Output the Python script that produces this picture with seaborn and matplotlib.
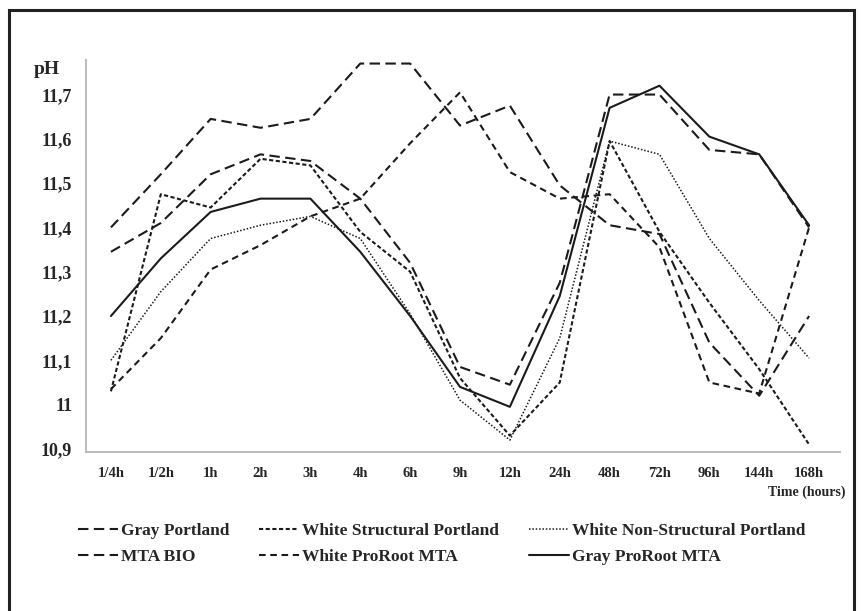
import numpy as np
import pandas as pd
import seaborn as sns
import matplotlib.pyplot as plt
from matplotlib.patches import Rectangle

# ---- data ----
times = ["1/4h", "1/2h", "1h", "2h", "3h", "4h", "6h", "9h", "12h",
         "24h", "48h", "72h", "96h", "144h", "168h"]

gray_portland = [11.40, 11.52, 11.645, 11.625, 11.645, 11.77, 11.77, 11.63,
                 11.675, 11.495, 11.405, 11.385, 11.14, 11.02, 11.20]
white_structural = [11.03, 11.475, 11.445, 11.555, 11.54, 11.39, 11.30, 11.06,
                    10.93, 11.05, 11.595, 11.39, 11.23, 11.08, 10.91]
white_nonstructural = [11.10, 11.255, 11.375, 11.405, 11.425, 11.375, 11.205, 11.01,
                       10.92, 11.15, 11.595, 11.565, 11.375, 11.235, 11.105]
mta_bio = [11.345, 11.41, 11.52, 11.565, 11.55, 11.465, 11.32, 11.085,
           11.045, 11.275, 11.70, 11.70, 11.575, 11.565, 11.40]
white_proroot = [11.035, 11.15, 11.305, 11.36, 11.425, 11.465, 11.59, 11.705,
                 11.525, 11.465, 11.475, 11.355, 11.05, 11.025, 11.40]
gray_proroot = [11.20, 11.33, 11.435, 11.465, 11.465, 11.345, 11.20, 11.04,
                10.995, 11.245, 11.67, 11.72, 11.605, 11.565, 11.405]

series = {
    "Gray Portland": gray_portland,
    "White Structural Portland": white_structural,
    "White Non-Structural Portland": white_nonstructural,
    "MTA BIO": mta_bio,
    "White ProRoot MTA": white_proroot,
    "Gray ProRoot MTA": gray_proroot,
}

rows = []
for name, vals in series.items():
    for i, v in enumerate(vals):
        rows.append({"pos": i, "pH": v, "material": name})
df = pd.DataFrame(rows)

# ---- styling ----
sns.set_style("white")
plt.rcParams["font.family"] = ["Liberation Serif", "DejaVu Serif"]

ink = "#1b1b1b"
palette = {n: ink for n in series}
dashes = {
    "Gray Portland": (5, 2.6),
    "White Structural Portland": (2.0, 1.2),
    "White Non-Structural Portland": (1, 1.2),
    "MTA BIO": (5, 2.6),
    "White ProRoot MTA": (3.2, 2.2),
    "Gray ProRoot MTA": "",
}
widths = {
    "Gray Portland": 1.5,
    "White Structural Portland": 1.5,
    "White Non-Structural Portland": 1.1,
    "MTA BIO": 1.5,
    "White ProRoot MTA": 1.5,
    "Gray ProRoot MTA": 1.5,
}

fig = plt.figure(figsize=(8.61, 6.11), dpi=100)
ax = fig.add_axes([86 / 861, 1 - 452 / 611, 754 / 861, 392 / 611])

sns.lineplot(data=df, x="pos", y="pH", hue="material", style="material",
             palette=palette, dashes=dashes, legend=False, ax=ax,
             estimator=None, sort=False)
for line, name in zip(ax.get_lines(), series):
    line.set_linewidth(widths[name])

ax.set_xlim(-0.5, 14.62)
ax.set_ylim(10.893, 11.778)

ax.set_xticks(range(len(times)))
ax.set_xticklabels(times, fontsize=10.5, fontweight="bold")
yt = [10.9, 11.0, 11.1, 11.2, 11.3, 11.4, 11.5, 11.6, 11.7]
ax.set_yticks(yt)
ax.set_yticklabels([("%g" % v).replace(".", ",") for v in yt],
                   fontsize=13, fontweight="bold")
ax.tick_params(axis="both", length=0)
ax.tick_params(axis="y", pad=10)
ax.tick_params(axis="x", pad=11)
ax.set_xlabel("")
ax.set_ylabel("")

for s in ["top", "right"]:
    ax.spines[s].set_visible(False)
for s in ["left", "bottom"]:
    ax.spines[s].set_color("#bdbdbd")
    ax.spines[s].set_linewidth(1.5)

fig.text(47 / 861, 1 - 70 / 611, "pH", fontsize=14, fontweight="bold",
         ha="center", va="center")
fig.text(845 / 861, 1 - 492 / 611, "Time (hours)", fontsize=10,
         fontweight="bold", ha="right", va="center")

# legend: 3 columns, 2 rows
order = ["Gray Portland", "MTA BIO", "White Structural Portland",
         "White ProRoot MTA", "White Non-Structural Portland", "Gray ProRoot MTA"]
lines = dict(zip(series, ax.get_lines()))
leg = fig.legend([lines[n] for n in order], order, ncol=3,
                 loc="center left", bbox_to_anchor=(62 / 861, 1 - 544 / 611),
                 frameon=False, handlelength=2.3, handletextpad=0.2,
                 columnspacing=1.7, labelspacing=0.6,
                 prop={"size": 12.5, "weight": "bold"})

# outer black frame
fig.patches.append(Rectangle((9 / 861, -0.02), 845 / 861, 1 - 10 / 611 + 0.02,
                             transform=fig.transFigure, fill=False,
                             edgecolor="#222222", linewidth=2.2))

fig.savefig("out.png", dpi=100)
